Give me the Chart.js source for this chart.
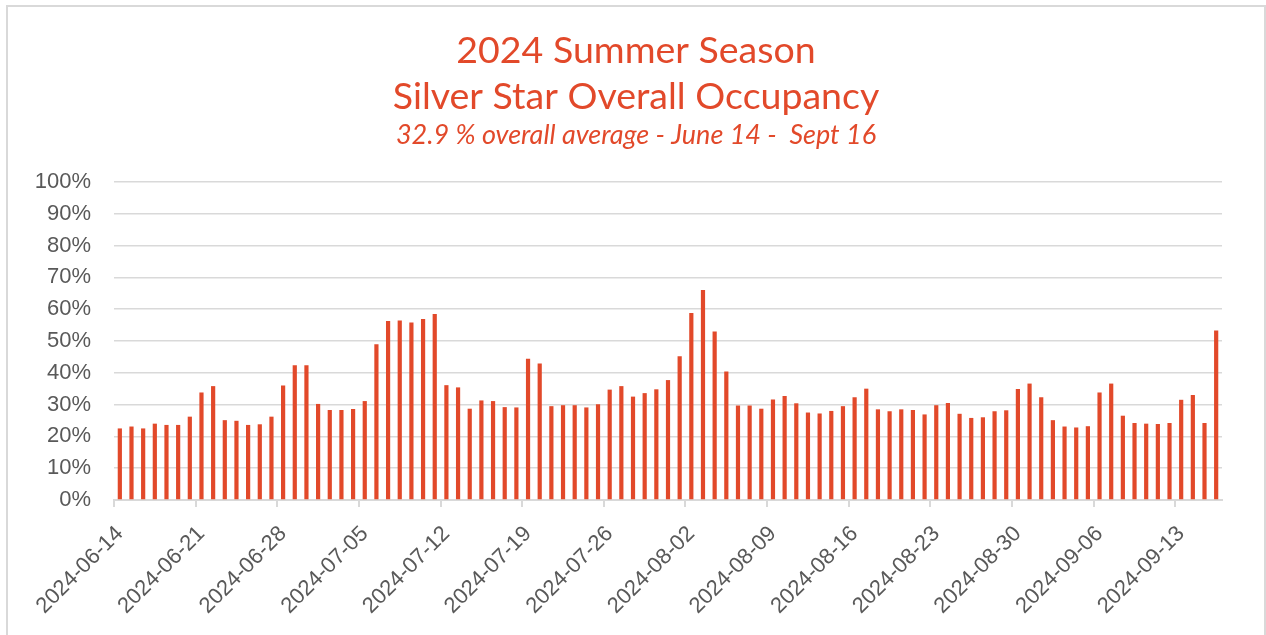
<!DOCTYPE html>
<html>
<head>
<meta charset="utf-8">
<script src="https://cdn.jsdelivr.net/npm/chart.js@4.4.1/dist/chart.umd.min.js"></script>
<style>
  html, body { margin: 0; padding: 0; background: #fff; overflow: hidden; }
  #frame { position: absolute; left: 6px; top: 5px; width: 1256px; height: 700px; border: 2px solid #d9d9d9; }
  #wrap { position: absolute; left: 0; top: 0; width: 1266px; height: 635px; }
</style>
</head>
<body>
<div id="frame"></div>
<div id="wrap"><canvas id="occupancyChart" width="1266" height="635"></canvas></div>
<script>
// dates of the season (one bar per night)
const dates = [
  '2024-06-14','2024-06-15','2024-06-16','2024-06-17','2024-06-18','2024-06-19','2024-06-20',
  '2024-06-21','2024-06-22','2024-06-23','2024-06-24','2024-06-25','2024-06-26','2024-06-27',
  '2024-06-28','2024-06-29','2024-06-30','2024-07-01','2024-07-02','2024-07-03','2024-07-04',
  '2024-07-05','2024-07-06','2024-07-07','2024-07-08','2024-07-09','2024-07-10','2024-07-11',
  '2024-07-12','2024-07-13','2024-07-14','2024-07-15','2024-07-16','2024-07-17','2024-07-18',
  '2024-07-19','2024-07-20','2024-07-21','2024-07-22','2024-07-23','2024-07-24','2024-07-25',
  '2024-07-26','2024-07-27','2024-07-28','2024-07-29','2024-07-30','2024-07-31','2024-08-01',
  '2024-08-02','2024-08-03','2024-08-04','2024-08-05','2024-08-06','2024-08-07','2024-08-08',
  '2024-08-09','2024-08-10','2024-08-11','2024-08-12','2024-08-13','2024-08-14','2024-08-15',
  '2024-08-16','2024-08-17','2024-08-18','2024-08-19','2024-08-20','2024-08-21','2024-08-22',
  '2024-08-23','2024-08-24','2024-08-25','2024-08-26','2024-08-27','2024-08-28','2024-08-29',
  '2024-08-30','2024-08-31','2024-09-01','2024-09-02','2024-09-03','2024-09-04','2024-09-05',
  '2024-09-06','2024-09-07','2024-09-08','2024-09-09','2024-09-10','2024-09-11','2024-09-12',
  '2024-09-13','2024-09-14','2024-09-15','2024-09-16'
];

// occupancy in %
const juneOcc = [22.5, 23.1, 22.5, 24.0, 23.6, 23.6, 26.2, 33.8, 35.8, 25.1, 24.9, 23.6, 23.8, 26.2, 36.0, 42.4, 42.4];
const julyOcc = [30.2, 28.3, 28.3, 28.6, 31.1, 49.0, 56.3, 56.4, 55.8, 56.9, 58.5, 36.1, 35.4, 28.7, 31.3, 31.1,
                 29.2, 29.1, 44.4, 42.9, 29.5, 29.8, 29.8, 29.1, 30.1, 34.7, 35.8, 32.5, 33.6, 34.8, 37.7];
const augOcc = [45.2, 58.8, 66.0, 53.0, 40.4, 29.7, 29.7, 28.7, 31.6, 32.7, 30.4, 27.5, 27.2, 28.0, 29.5, 32.3,
                35.0, 28.5, 27.9, 28.5, 28.3, 26.9, 29.8, 30.5, 27.1, 25.8, 26.0, 27.9, 28.2, 34.9, 36.6];
const septOcc = [32.3, 25.1, 23.1, 22.8, 23.2, 33.8, 36.6, 26.5, 24.2, 24.0, 23.9, 24.2, 31.5, 33.0, 24.2, 53.3];

const yTicks = [0, 10, 20, 30, 40, 50, 60, 70, 80, 90, 100];
const titleLines = ['2024 Summer Season', 'Silver Star Overall Occupancy'];
const subtitleText = '32.9 % overall average - June 14 -  Sept 16';

const occupancy = [...juneOcc, ...julyOcc, ...augOcc, ...septOcc];

const ORANGE = '#E2492A';
const GREY_TXT = '#595959';
const GREY_LINE = '#d9d9d9';
const LABEL_EVERY = 7;
const PAD_LEFT = 50; // keeps the title centred on the page, not on the plot

const ctx = document.getElementById('occupancyChart').getContext('2d');
new Chart(ctx, {
  type: 'bar',
  data: {
    labels: dates,
    datasets: [{
      label: 'Occupancy',
      data: occupancy,
      backgroundColor: ORANGE,
      borderWidth: 0,
      categoryPercentage: 1,
      barPercentage: 0.36
    }]
  },
  options: {
    responsive: false,
    animation: false,
    layout: { padding: { left: PAD_LEFT, right: 44, top: 0, bottom: 0 } },
    plugins: {
      legend: { display: false },
      tooltip: { enabled: false },
      title: {
        display: true,
        text: titleLines,
        color: ORANGE,
        font: { family: 'Lato', size: 37.5, weight: 'normal', lineHeight: 1.22 },
        padding: { top: 28, bottom: 0 }
      },
      subtitle: {
        display: true,
        text: subtitleText,
        color: ORANGE,
        font: { family: 'Lato', size: 27, style: 'italic', weight: 'normal', lineHeight: 1.2 },
        padding: { top: 0, bottom: 30 }
      }
    },
    scales: {
      x: {
        offset: true,
        grid: {
          offset: true,
          drawOnChartArea: false,
          tickLength: 7,
          lineWidth: 2,
          color: c => (c.index !== undefined && c.index % LABEL_EVERY === 0) ? GREY_LINE : 'rgba(0,0,0,0)'
        },
        border: { color: GREY_LINE, width: 2 },
        ticks: {
          autoSkip: false,
          minRotation: 45,
          maxRotation: 45,
          labelOffset: 0,
          padding: 14,
          color: GREY_TXT,
          font: { family: 'Liberation Sans', size: 22 },
          callback: function(val, i) {
            return i % LABEL_EVERY === 0 ? this.getLabelForValue(val) : '';
          }
        },
        afterFit: s => { s.height = 135; }
      },
      y: {
        min: 0,
        max: 100,
        afterBuildTicks: s => { s.ticks = yTicks.map(v => ({ value: v })); },
        grid: { color: GREY_LINE, lineWidth: 1.5, drawTicks: false },
        border: { display: false },
        ticks: {
          padding: 23,
          color: GREY_TXT,
          font: { family: 'Liberation Sans', size: 22 },
          callback: v => v + '%'
        },
        afterFit: s => {
          s.width = 114 - PAD_LEFT;
          s._computeLabelArea = () => null; // labels reach into the left padding, don't clip them
        }
      }
    }
  }
});
</script>
</body>
</html>
